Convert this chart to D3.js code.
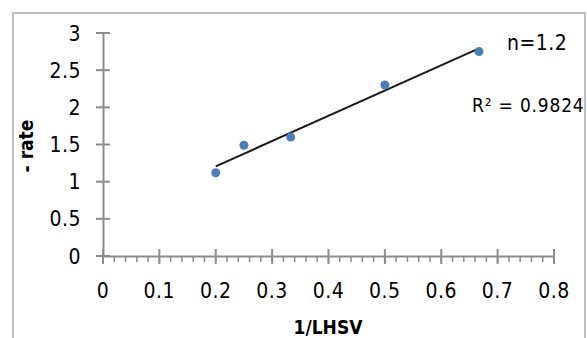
<!DOCTYPE html>
<html><head><meta charset="utf-8">
<script src="https://cdn.jsdelivr.net/npm/d3@7"></script>
<style>
body{margin:0;background:#fff;}
text{font-family:'Liberation Sans Narrow','DejaVu Sans Condensed','Liberation Sans',sans-serif;}
</style></head>
<body><svg id="c" width="587" height="338"></svg>
<script>
const xValues = [0.2, 0.25, 0.333, 0.5, 0.667];
const rateValues = [1.12, 1.49, 1.6, 2.3, 2.75];
const xTicks = [0, 0.1, 0.2, 0.3, 0.4, 0.5, 0.6, 0.7, 0.8];
const yTicks = [0, 0.5, 1, 1.5, 2, 2.5, 3];
const xTitle = "1/LHSV";
const yTitle = "- rate";
const annN = "n=1.2";
const annR = "R² = 0.9824";

const svg = d3.select("#c");
// outer chart border
svg.append("rect").attr("x",13).attr("y",13).attr("width",572).attr("height",340)
  .attr("fill","#fff").attr("stroke","#bfbfbf").attr("stroke-width",2);

const x = d3.scaleLinear().domain([0,0.8]).range([103,554]);
const y = d3.scaleLinear().domain([0,3]).range([256,33]);
const axisColor = "#8c8c8c";

// y axis
const gy = svg.append("g").attr("transform","translate(103,0)")
  .call(d3.axisLeft(y).tickValues(yTicks).tickSize(0).tickFormat(d=>d3.format("")(d)));
gy.select(".domain").attr("stroke",axisColor).attr("stroke-width",2);
gy.selectAll(".tick text").remove();
yTicks.forEach(v=>{
  svg.append("line").attr("x1",96).attr("x2",110).attr("y1",y(v)).attr("y2",y(v))
    .attr("stroke",axisColor).attr("stroke-width",2);
  svg.append("text").attr("x",81).attr("y",y(v)).attr("dy","0.36em")
    .attr("text-anchor","end").attr("font-size",21).attr("letter-spacing",0.5)
    .attr("fill","#000").text(String(v));
});

// x axis
const gx = svg.append("g").attr("transform","translate(0,"+y(0)+")")
  .call(d3.axisBottom(x).tickValues(xTicks).tickSize(0));
gx.select(".domain").attr("stroke",axisColor).attr("stroke-width",2);
gx.selectAll(".tick text").remove();
const minor = d3.range(0,0.8001,0.02);
minor.forEach(v=>{
  svg.append("line").attr("x1",x(v)).attr("x2",x(v)).attr("y1",y(0)).attr("y2",y(0)+6)
    .attr("stroke",axisColor).attr("stroke-width",1.5);
});
xTicks.forEach(v=>{
  svg.append("line").attr("x1",x(v)).attr("x2",x(v)).attr("y1",y(0)-7).attr("y2",y(0)+8)
    .attr("stroke",axisColor).attr("stroke-width",2);
  svg.append("text").attr("x",x(v)).attr("y",290).attr("dy","0.36em")
    .attr("text-anchor","middle").attr("font-size",21).attr("letter-spacing",0.5)
    .attr("fill","#000").text(String(v));
});

// trendline (least squares from data)
const mx = d3.mean(xValues), my = d3.mean(rateValues);
const sxy = d3.sum(xValues.map((v,i)=>(v-mx)*(rateValues[i]-my)));
const sxx = d3.sum(xValues.map(v=>(v-mx)*(v-mx)));
const slope = sxy/sxx, icpt = my - slope*mx;
const x0 = d3.min(xValues), x1 = d3.max(xValues);
svg.append("line").attr("x1",x(x0)).attr("y1",y(icpt+slope*x0))
  .attr("x2",x(x1)).attr("y2",y(icpt+slope*x1))
  .attr("stroke","#1a1a1a").attr("stroke-width",2);

// points
svg.selectAll("circle.pt").data(xValues).enter().append("circle")
  .attr("class","pt").attr("cx",d=>x(d)).attr("cy",(d,i)=>y(rateValues[i]))
  .attr("r",4.5).attr("fill","#4a7ebb");

// annotations
svg.append("text").attr("x",507).attr("y",42).attr("dy","0.36em").attr("font-size",21)
  .attr("letter-spacing",0.5).text(annN);
svg.append("text").attr("x",472).attr("y",105).attr("dy","0.36em").attr("font-size",19)
  .attr("letter-spacing",0.8).text(annR);

// axis titles
svg.append("text").attr("x",328).attr("y",327).attr("dy","0.36em").attr("text-anchor","middle")
  .attr("font-size",19).attr("font-weight","bold").text(xTitle);
svg.append("text").attr("transform","translate(33,146) rotate(-90)")
  .attr("text-anchor","middle").attr("font-size",19).attr("font-weight","bold").text(yTitle);
</script></body></html>
